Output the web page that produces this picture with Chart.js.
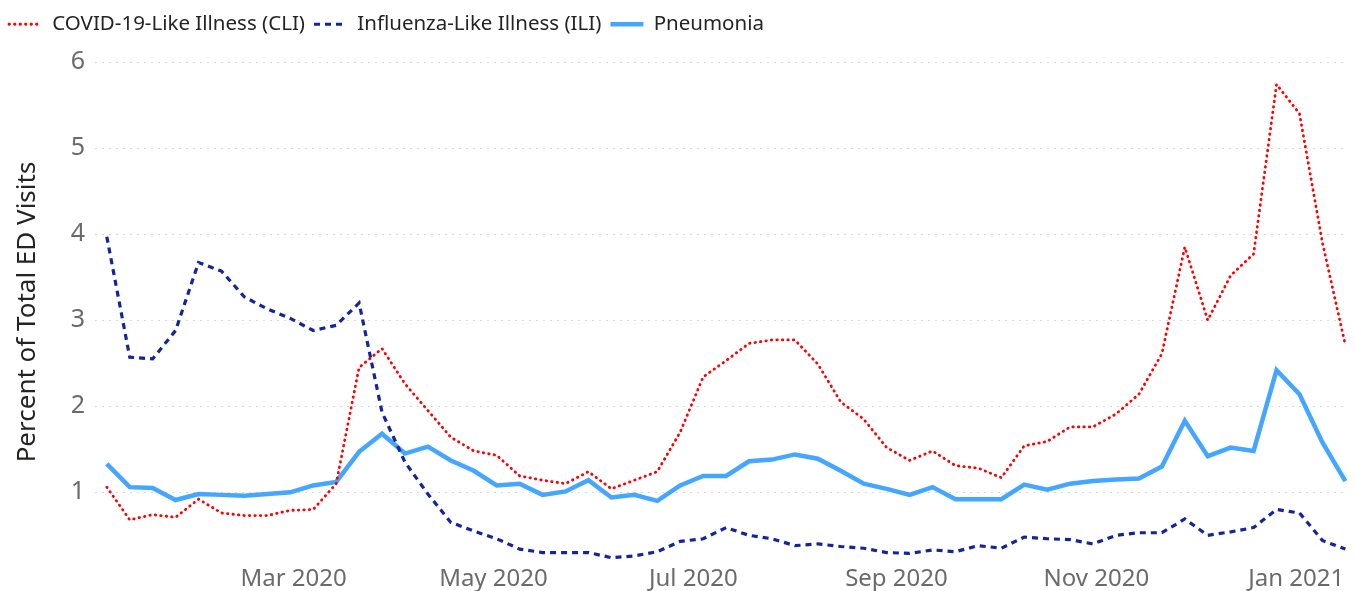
<!DOCTYPE html>
<html>
<head>
<meta charset="utf-8">
<script src="https://cdn.jsdelivr.net/npm/chart.js@4.4.1/dist/chart.umd.min.js"></script>
<style>
  html, body { margin: 0; padding: 0; background: #fff; }
  #wrap { width: 1356px; height: 591px; }
</style>
</head>
<body>
<div id="wrap"><canvas id="chart" width="1356" height="591"></canvas></div>
<script>
// week ending dates
const weeks = [
  '2020-01-04', '2020-01-11', '2020-01-18', '2020-01-25', '2020-02-01', '2020-02-08', '2020-02-15',
  '2020-02-22', '2020-02-29', '2020-03-07', '2020-03-14', '2020-03-21', '2020-03-28', '2020-04-04',
  '2020-04-11', '2020-04-18', '2020-04-25', '2020-05-02', '2020-05-09', '2020-05-16', '2020-05-23',
  '2020-05-30', '2020-06-06', '2020-06-13', '2020-06-20', '2020-06-27', '2020-07-04', '2020-07-11',
  '2020-07-18', '2020-07-25', '2020-08-01', '2020-08-08', '2020-08-15', '2020-08-22', '2020-08-29',
  '2020-09-05', '2020-09-12', '2020-09-19', '2020-09-26', '2020-10-03', '2020-10-10', '2020-10-17',
  '2020-10-24', '2020-10-31', '2020-11-07', '2020-11-14', '2020-11-21', '2020-11-28', '2020-12-05',
  '2020-12-12', '2020-12-19', '2020-12-26', '2021-01-02', '2021-01-09', '2021-01-16'
];

const cli = [
  1.06, 0.68, 0.74, 0.71, 0.92, 0.76, 0.73, 0.73, 0.79, 0.80,
  1.10, 2.45, 2.67, 2.26, 1.95, 1.64, 1.48, 1.43, 1.19, 1.14,
  1.10, 1.24, 1.04, 1.14, 1.24, 1.70, 2.34, 2.53, 2.73, 2.77,
  2.77, 2.49, 2.05, 1.85, 1.52, 1.37, 1.48, 1.31, 1.28, 1.17,
  1.54, 1.59, 1.76, 1.76, 1.91, 2.14, 2.61, 3.85, 3.00, 3.52,
  3.77, 5.74, 5.40, 3.90, 2.71
];

const ili = [
  3.97, 2.57, 2.55, 2.88, 3.67, 3.57, 3.27, 3.13, 3.02, 2.88,
  2.94, 3.20, 1.93, 1.35, 0.98, 0.65, 0.55, 0.46, 0.34, 0.30,
  0.30, 0.30, 0.24, 0.26, 0.31, 0.43, 0.46, 0.59, 0.50, 0.46,
  0.38, 0.40, 0.37, 0.35, 0.30, 0.29, 0.33, 0.31, 0.38, 0.35,
  0.48, 0.46, 0.45, 0.40, 0.50, 0.53, 0.53, 0.69, 0.50, 0.54,
  0.59, 0.80, 0.76, 0.44, 0.34
];

const pneumonia = [
  1.33, 1.06, 1.05, 0.91, 0.98, 0.97, 0.96, 0.98, 1.00, 1.08,
  1.12, 1.47, 1.68, 1.45, 1.53, 1.37, 1.25, 1.08, 1.10, 0.97,
  1.01, 1.14, 0.94, 0.97, 0.90, 1.08, 1.19, 1.19, 1.36, 1.38,
  1.44, 1.39, 1.25, 1.10, 1.04, 0.97, 1.06, 0.92, 0.92, 0.92,
  1.09, 1.03, 1.10, 1.13, 1.15, 1.16, 1.30, 1.83, 1.42, 1.52,
  1.48, 2.42, 2.14, 1.58, 1.13
];

const yTicks = [1, 2, 3, 4, 5, 6];
const monthTicks = ['2020-03-01', '2020-05-01', '2020-07-01', '2020-09-01', '2020-11-01', '2021-01-01'];
const monthLabels = ['Mar 2020', 'May 2020', 'Jul 2020', 'Sep 2020', 'Nov 2020', 'Jan 2021'];

// days since the first week, used as x on a linear scale
const t0 = Date.parse(weeks[0]);
const dayOf = s => (Date.parse(s) - t0) / 86400000;
const toPoints = vals => vals.map((v, i) => ({ x: dayOf(weeks[i]), y: v }));

const FONT = "'Noto Sans', 'Open Sans', sans-serif";
const BOX_W = 33;

// taller legend block so the plot starts lower, and line samples drawn with each dataset's dash
const legendLines = {
  id: 'legendLines',
  beforeInit(chart) {
    const lg = chart.legend;
    if (!lg) return;
    const fit = lg.fit.bind(lg);
    lg.fit = function () { fit(); this.height = 57; };
  },
  afterDraw(chart) {
    const lg = chart.legend;
    if (!lg || !lg.legendHitBoxes) return;
    const ctx = chart.ctx;
    lg.legendHitBoxes.forEach((box, i) => {
      const ds = chart.data.datasets[i];
      const y = box.top + box.height / 2;
      ctx.save();
      ctx.strokeStyle = ds.borderColor;
      ctx.lineWidth = ds.borderWidth;
      ctx.lineCap = ds.borderCapStyle || 'butt';
      ctx.setLineDash(ds.borderDash || []);
      ctx.beginPath();
      ctx.moveTo(box.left, y);
      ctx.lineTo(box.left + BOX_W, y);
      ctx.stroke();
      ctx.restore();
    });
  }
};

new Chart(document.getElementById('chart'), {
  type: 'line',
  data: {
    datasets: [
      {
        label: 'COVID-19-Like Illness (CLI)',
        data: toPoints(cli),
        borderColor: '#ff0000',
        backgroundColor: '#ff0000',
        borderWidth: 2.8,
        borderDash: [0.5, 5],
        borderCapStyle: 'round',
        pointRadius: 0,
        tension: 0
      },
      {
        label: 'Influenza-Like Illness (ILI)',
        data: toPoints(ili),
        borderColor: '#13259c',
        backgroundColor: '#13259c',
        borderWidth: 3.2,
        borderDash: [6, 5],
        borderCapStyle: 'butt',
        pointRadius: 0,
        tension: 0
      },
      {
        label: 'Pneumonia',
        data: toPoints(pneumonia),
        borderColor: '#45a6ff',
        backgroundColor: '#45a6ff',
        borderWidth: 4.5,
        pointRadius: 0,
        tension: 0
      }
    ]
  },
  options: {
    responsive: false,
    animation: false,
    layout: { padding: { top: 5, right: 9, left: 0, bottom: 0 } },
    plugins: {
      tooltip: { enabled: false },
      legend: {
        position: 'top',
        align: 'start',
        labels: {
          boxWidth: BOX_W,
          boxHeight: 0,
          padding: 9,
          color: '#252423',
          font: { family: FONT, size: 20.5 },
          generateLabels: chart => Chart.defaults.plugins.legend.labels.generateLabels(chart)
            .map(item => Object.assign(item, { fillStyle: 'rgba(0,0,0,0)', strokeStyle: 'rgba(0,0,0,0)', lineWidth: 0 }))
        }
      }
    },
    scales: {
      x: {
        type: 'linear',
        min: -3.6,
        max: dayOf(weeks[weeks.length - 1]) + 0.5,
        grid: { display: false, drawTicks: false },
        border: { display: false },
        afterBuildTicks: s => { s.ticks = monthTicks.map(d => ({ value: dayOf(d) })); },
        afterFit: s => { s.height = 29; },
        ticks: {
          autoSkip: false,
          maxRotation: 0,
          padding: 3,
          color: '#6b6b6b',
          font: { family: FONT, size: 24 },
          callback: (v, i) => monthLabels[i]
        }
      },
      y: {
        min: 0.19,
        max: 6,
        afterBuildTicks: s => { s.ticks = yTicks.map(v => ({ value: v })); },
        afterFit: s => { s.width = 95; },
        grid: { color: '#d9d9d9', lineWidth: 1, drawTicks: false },
        border: { display: false, dash: [2, 5] },
        ticks: {
          padding: 10,
          color: '#6b6b6b',
          font: { family: FONT, size: 25 }
        },
        title: {
          display: true,
          text: 'Percent of Total ED Visits',
          color: '#252423',
          padding: { top: 12, bottom: 0 },
          font: { family: FONT, size: 26 }
        }
      }
    }
  },
  plugins: [legendLines]
});
</script>
</body>
</html>
